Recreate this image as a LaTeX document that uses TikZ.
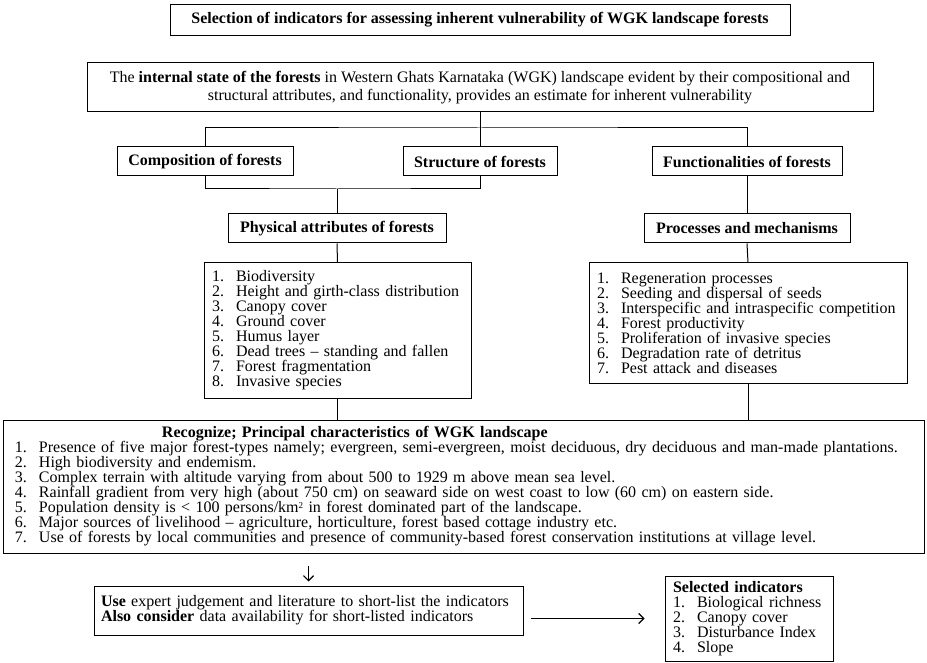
\documentclass[tikz,border=0pt]{standalone}
\usepackage{fontspec}
\setmainfont{Liberation Serif}
\usepackage{tikz}
\usetikzlibrary{arrows.meta}

\newcommand{\itm}[3][24pt]{\makebox[#1][l]{#2}#3\\}
\newcommand{\sqr}{\smash{\raisebox{4pt}{\fontsize{9}{9}\selectfont 2}}}

\begin{document}
\begin{tikzpicture}[x=1pt,y=-1pt,line width=1pt,
  box/.style={draw,inner sep=0pt,align=center,font=\fontsize{16}{15}\selectfont},
  head/.style={box,font=\fontsize{16}{15}\selectfont\bfseries,minimum height=29pt},
  lst/.style={draw,inner xsep=8pt,inner ysep=0pt,align=left,font=\fontsize{16}{15}\selectfont},
  arr/.style={line width=1.2pt,-{Straight Barb[length=5pt,width=10pt]}}]
  \useasboundingbox (0,0) rectangle (927,663);
  %\draw[thin,gray!40] (0,0) grid[step=50] (927,663);
  \node[head,minimum width=620pt,minimum height=31pt] (title) at (480,20)
    {Selection of indicators for assessing inherent vulnerability of WGK landscape forests};
  \node[box,minimum width=786pt,minimum height=49pt] (state) at (480,87.5)
    {The \textbf{internal state of the forests} in Western Ghats Karnataka (WGK) landscape evident by their compositional and\\[3pt]
     structural attributes, and functionality, provides an estimate for inherent vulnerability};
  \node[head,minimum width=176pt] (comp) at (205,161.5) {Composition of forests};
  \node[head,minimum width=154pt] (struc) at (480,161.5) {Structure of forests};
  \node[head,minimum width=190pt] (func) at (747,161.5) {Functionalities of forests};
  \node[head,minimum width=218pt] (phys) at (337,228.5) {Physical attributes of forests};
  \node[head,minimum width=206pt] (proc) at (747,228.5) {Processes and mechanisms};
  \node[lst,text width=251pt,minimum height=135pt] (physlist) at (337.5,330.5)
    {\itm{1.}{Biodiversity}\itm{2.}{Height and girth-class distribution}\itm{3.}{Canopy cover}
     \itm{4.}{Ground cover}\itm{5.}{Humus layer}\itm{6.}{Dead trees -- standing and fallen}
     \itm{7.}{Forest fragmentation}\makebox[24pt][l]{8.}Invasive species};
  \node[lst,text width=302pt,minimum height=120pt] (proclist) at (748,323)
    {\itm{1.}{Regeneration processes}\itm{2.}{Seeding and dispersal of seeds}
     \itm{3.}{Interspecific and intraspecific competition}\itm{4.}{Forest productivity}
     \itm{5.}{Proliferation of invasive species}\itm{6.}{Degradation rate of detritus}
     \makebox[24pt][l]{7.}Pest attack and diseases};
  \node[lst,inner xsep=12pt,text width=897pt,minimum height=133pt] (recog) at (463.5,486.5)
    {\hspace*{147pt}\textbf{Recognize; Principal characteristics of WGK landscape}\\
     \itm{1.}{Presence of five major forest-types namely; evergreen, semi-evergreen, moist deciduous, dry deciduous and man-made plantations.}
     \itm{2.}{High biodiversity and endemism.}
     \itm{3.}{Complex terrain with altitude varying from about 500 to 1929 m above mean sea level.}
     \itm{4.}{Rainfall gradient from very high (about 750 cm) on seaward side on west coast to low (60 cm) on eastern side.}
     \itm{5.}{Population density is < 100 persons/km\sqr{} in forest dominated part of the landscape.}
     \itm{6.}{Major sources of livelihood -- agriculture, horticulture, forest based cottage industry etc.}
     \makebox[24pt][l]{7.}Use of forests by local communities and presence of community-based forest conservation institutions at village level.};
  \node[lst,inner xsep=7pt,text width=415pt,minimum height=49pt] (use) at (308.5,610.5)
    {\textbf{Use} expert judgement and literature to short-list the indicators\\
     \textbf{Also consider} data availability for short-listed indicators};
  \node[lst,text width=152pt,minimum height=85pt] (sel) at (749,618.5)
    {\textbf{Selected indicators}\\\itm{1.}{Biological richness}\itm{2.}{Canopy cover}
     \itm{3.}{Disturbance Index}\makebox[24pt][l]{4.}Slope};
  % connectors
  \coordinate (split) at (480,128);
  \coordinate (join) at (337,189);
  \draw (state.south) -- (struc.north);
  \draw (comp.north) |- (split) -| (func.north);
  \draw (comp.south) |- (join) -| (struc.south);
  \draw (join) -- (phys.north);
  \draw (func.south) -- (proc.north);
  \draw (phys.south) -- (physlist.north);
  \draw (proc.south) -- (proclist.north);
  \draw (physlist.south) -- (physlist.south |- recog.north);
  \draw (proclist.south) -- (proclist.south |- recog.north);
  \draw[arr,shorten <=12pt,shorten >=4pt] (recog.south -| use.north) -- (use.north);
  \draw[arr,shorten <=7pt,shorten >=20pt] (use.east |- sel.west) -- (sel.west);
\end{tikzpicture}
\end{document}
